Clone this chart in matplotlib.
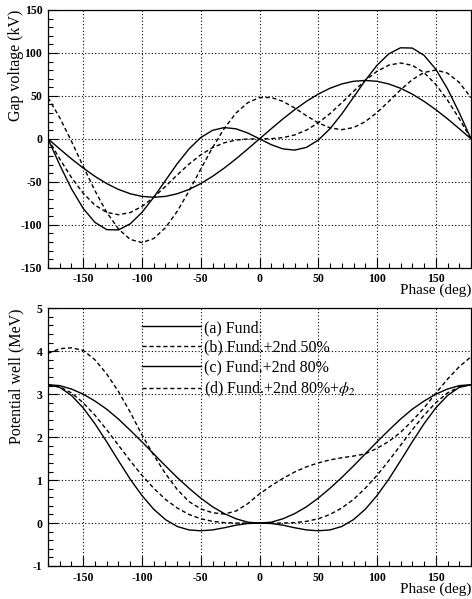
import numpy as np
import matplotlib
matplotlib.use("Agg")
import matplotlib.pyplot as plt
from matplotlib.ticker import MultipleLocator

plt.rcParams['font.family'] = ['Liberation Serif', 'DejaVu Serif']
plt.rcParams['mathtext.fontset'] = 'stix'
plt.rcParams['axes.unicode_minus'] = False

phase = list(range(-180, 181, 10))

# gap voltage (kV)
volt_a = [0, -11.8, -23.3, -34.0, -43.7, -52.1, -58.9, -63.9, -67.0, -68.0, -67.0, -63.9, -58.9, -52.1, -43.7, -34.0, -23.3, -11.8,
          0, 11.8, 23.3, 34.0, 43.7, 52.1, 58.9, 63.9, 67.0, 68.0, 67.0, 63.9, 58.9, 52.1, 43.7, 34.0, 23.3, 11.8, 0]
volt_b = [0, -23.4, -45.1, -63.4, -77.2, -85.6, -88.3, -85.8, -78.6, -68.0, -55.3, -42.0, -29.4, -18.6, -10.2, -4.6, -1.4, -0.2,
          0, 0.2, 1.4, 4.6, 10.2, 18.6, 29.4, 42.0, 55.3, 68.0, 78.6, 85.8, 88.3, 85.6, 77.2, 63.4, 45.1, 23.4, 0]
volt_c = [0, -30.4, -58.2, -81.1, -97.3, -105.7, -106.0, -98.9, -85.6, -68.0, -48.4, -28.9, -11.8, 1.5, 9.9, 13.1, 11.7, 6.8,
          0, -6.8, -11.7, -13.1, -9.9, -1.5, 11.8, 28.9, 48.4, 68.0, 85.6, 98.9, 106.0, 105.7, 97.3, 81.1, 58.2, 30.4, 0]
volt_d = [48.0, 24.6, -2.9, -32.1, -60.5, -85.6, -105.0, -117.1, -120.8, -116.0, -103.4, -84.3, -60.8, -35.3, -10.2, 12.1, 30.0, 42.1,
          48.0, 48.2, 43.6, 35.9, 26.9, 18.6, 12.8, 10.7, 13.1, 20.0, 30.6, 43.5, 57.0, 68.9, 77.2, 80.1, 76.5, 65.7, 48.0]

# potential well (MeV)
well_a = [3.22, 3.20, 3.12, 3.00, 2.84, 2.65, 2.42, 2.16, 1.89, 1.61, 1.33, 1.06, 0.81, 0.58, 0.38, 0.22, 0.10, 0.02,
          0, 0.02, 0.10, 0.22, 0.38, 0.58, 0.81, 1.06, 1.33, 1.61, 1.89, 2.16, 2.42, 2.65, 2.84, 3.00, 3.12, 3.20, 3.22]
well_b = [3.22, 3.17, 3.03, 2.80, 2.51, 2.17, 1.81, 1.45, 1.11, 0.81, 0.55, 0.35, 0.20, 0.10, 0.04, 0.01, 0.00, 0.00,
          0, 0.00, 0.00, 0.01, 0.04, 0.10, 0.20, 0.35, 0.55, 0.81, 1.11, 1.45, 1.81, 2.17, 2.51, 2.80, 3.03, 3.17, 3.22]
well_c = [3.22, 3.16, 2.97, 2.68, 2.31, 1.89, 1.45, 1.02, 0.64, 0.32, 0.08, -0.08, -0.16, -0.18, -0.16, -0.11, -0.05, -0.01,
          0, -0.01, -0.05, -0.11, -0.16, -0.18, -0.16, -0.08, 0.08, 0.32, 0.64, 1.02, 1.45, 1.89, 2.31, 2.68, 2.97, 3.16, 3.22]
well_d = [3.95, 4.06, 4.08, 4.02, 3.80, 3.47, 3.06, 2.58, 2.05, 1.58, 1.15, 0.78, 0.50, 0.33, 0.24, 0.21, 0.28, 0.45,
          0.68, 0.87, 1.04, 1.19, 1.31, 1.40, 1.47, 1.52, 1.56, 1.61, 1.74, 1.90, 2.11, 2.38, 2.68, 3.02, 3.35, 3.64, 3.87]

labels = ["(a) Fund.", "(b) Fund.+2nd 50%", "(c) Fund.+2nd 80%", r"(d) Fund.+2nd 80%+$\phi_2$"]
styles = ['-', (0, (3, 2)), '-', (0, (3, 2))]

fig = plt.figure(figsize=(4.72, 5.99), dpi=100)
ax1 = fig.add_axes([48 / 472, 1 - 267.7 / 599, 423 / 472, 257.7 / 599])
ax2 = fig.add_axes([48 / 472, 1 - 566 / 599, 423 / 472, 257.7 / 599])


def style_axis(ax, ylim, ymaj, ymin, ylabel):
    ax.set_xlim(-180, 180)
    ax.set_ylim(*ylim)
    ax.xaxis.set_major_locator(MultipleLocator(50))
    ax.xaxis.set_minor_locator(MultipleLocator(10))
    ax.yaxis.set_major_locator(MultipleLocator(ymaj))
    ax.yaxis.set_minor_locator(MultipleLocator(ymin))
    ax.tick_params(which='both', direction='in', top=False, right=False)
    ax.tick_params(which='major', length=7, width=0.8, pad=4)
    ax.tick_params(which='minor', length=3.5, width=0.8)
    for lab in ax.get_xticklabels() + ax.get_yticklabels():
        lab.set_fontweight('bold')
        lab.set_fontsize(8.5)
    ax.grid(True, which='major', color='black', linestyle=(0, (1, 2)), linewidth=0.8)
    ax.set_ylabel(ylabel, fontsize=11.5, loc='top')
    ax.yaxis.set_label_coords(-0.056, 1.0)
    ax.set_xlabel("Phase (deg)", fontsize=11, loc='right', labelpad=-1)
    for sp in ax.spines.values():
        sp.set_linewidth(0.9)


for ys, ls in zip([volt_a, volt_b, volt_c, volt_d], styles):
    ax1.plot(phase, ys, color='black', linestyle=ls, linewidth=1.0)
style_axis(ax1, (-150, 150), 50, 10, "Gap voltage (kV)")

for ys, ls, lab in zip([well_a, well_b, well_c, well_d], styles, labels):
    ax2.plot(phase, ys, color='black', linestyle=ls, linewidth=1.0, label=lab)
style_axis(ax2, (-1, 5), 1, 0.2, "Potential well (MeV)")

ax2.legend(loc='upper left', bbox_to_anchor=(0.222, 0.955), frameon=False, fontsize=11.5,
           handlelength=3.7, handletextpad=0.2, labelspacing=0.25, borderpad=0, borderaxespad=0)

fig.savefig("out.png", dpi=100)
